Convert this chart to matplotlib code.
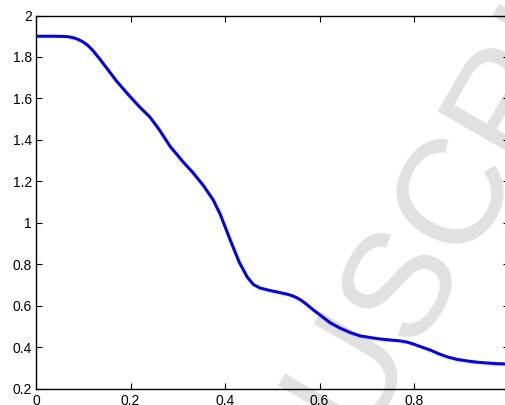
import matplotlib
matplotlib.use("Agg")
import matplotlib.pyplot as plt


# ----------------------------------------------------
# Curve samples
# ----------------------------------------------------

x_vals = [0.00, 0.04, 0.06, 0.07, 0.08, 0.09, 0.10, 0.11, 0.12, 0.135, 0.15,
          0.17, 0.19, 0.205, 0.22, 0.241, 0.26, 0.284, 0.31, 0.332, 0.355,
          0.375, 0.39, 0.411, 0.43, 0.447, 0.46, 0.474, 0.495, 0.516, 0.53,
          0.542, 0.552, 0.561, 0.57, 0.586, 0.601, 0.622, 0.643, 0.665, 0.686,
          0.71, 0.728, 0.75, 0.77, 0.785, 0.798, 0.815, 0.834, 0.852, 0.87,
          0.89, 0.912, 0.933, 0.954, 0.975, 1.00]

y_vals = [1.900, 1.900, 1.899, 1.897, 1.892, 1.884, 1.872, 1.855, 1.832, 1.790,
          1.745, 1.685, 1.632, 1.594, 1.557, 1.510, 1.452, 1.368, 1.297, 1.242,
          1.177, 1.110, 1.040, 0.917, 0.810, 0.738, 0.702, 0.685, 0.673, 0.663,
          0.656, 0.648, 0.638, 0.626, 0.611, 0.581, 0.555, 0.518, 0.492, 0.470,
          0.454, 0.445, 0.439, 0.434, 0.430, 0.424, 0.415, 0.401, 0.386, 0.368,
          0.353, 0.341, 0.333, 0.327, 0.323, 0.320, 0.318]

x_ticks = [0, 0.2, 0.4, 0.6, 0.8, 1.0]
x_labels = ["0", "0.2", "0.4", "0.6", "0.8", "1"]
y_ticks = [0.2, 0.4, 0.6, 0.8, 1.0, 1.2, 1.4, 1.6, 1.8, 2.0]
y_labels = ["0.2", "0.4", "0.6", "0.8", "1", "1.2", "1.4", "1.6", "1.8", "2"]

watermark = "MANUSCRIPT"


# ----------------------------------------------------
# Figure
# ----------------------------------------------------

plt.rcParams["font.family"] = ["Liberation Sans", "DejaVu Sans"]

fig = plt.figure(figsize=(5.06, 4.05), dpi=100)
ax = fig.add_axes([36 / 506, 16.5 / 405, 472.5 / 506, 373 / 405])
ax.set_facecolor("none")

# light diagonal stamp, kept under the axes
fig.text(0.80, 0.32, watermark, fontsize=108, color="#e1e1e1",
         rotation=60, ha="center", va="center", zorder=-1)

ax.plot(x_vals, y_vals, color="#0000ff", linewidth=2.2, zorder=3)

ax.set_xlim(0, 1)
ax.set_ylim(0.2, 2)
ax.set_xticks(x_ticks)
ax.set_xticklabels(x_labels)
ax.set_yticks(y_ticks)
ax.set_yticklabels(y_labels)

ax.tick_params(direction="in", length=4, width=0.8, labelsize=10,
               top=True, right=True, color="black")
ax.tick_params(axis="x", pad=4)
ax.tick_params(axis="y", pad=3)

for side in ax.spines.values():
    side.set_linewidth(1.0)

fig.savefig("out.png", dpi=100)
plt.close(fig)
